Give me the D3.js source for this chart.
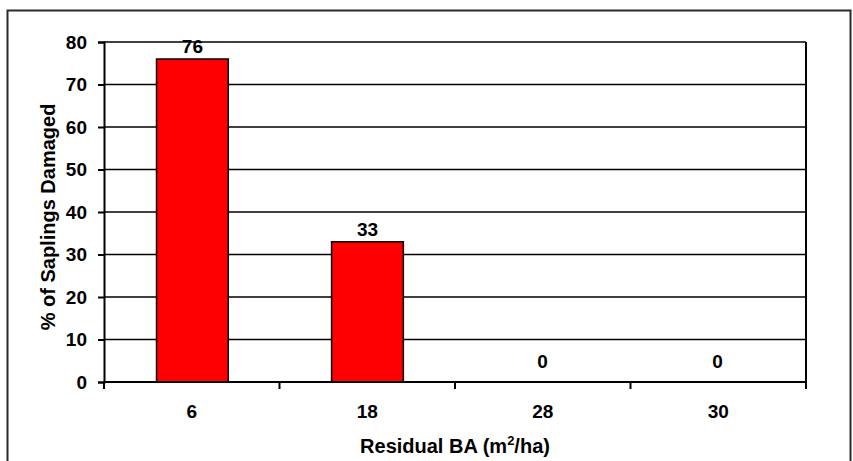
<!DOCTYPE html>
<html>
<head>
<meta charset="utf-8">
<script src="https://cdn.jsdelivr.net/npm/d3@7"></script>
<style>
  html, body { margin: 0; padding: 0; background: #fff; }
  svg { display: block; }
  text { font-family: "Liberation Sans", Arial, sans-serif; font-weight: bold; fill: #000; }
</style>
</head>
<body>
<svg id="chart" width="853" height="461"></svg>
<script>
// Sapling damage by residual basal area
const categories = ["6", "18", "28", "30"];
const damaged = [76, 33, 0, 0];
const yTicks = [0, 10, 20, 30, 40, 50, 60, 70, 80];

const svg = d3.select("#chart");
const W = 853, H = 461;
const margin = { left: 104, top: 42, right: 47, bottom: 79 };
const x0 = margin.left, x1 = W - margin.right;
const y0 = H - margin.bottom, y1 = margin.top;
const numSize = "19px", titleSize = "20px";

// outer frame
svg.append("rect")
  .attr("x", 7.5).attr("y", 10.5)
  .attr("width", 843).attr("height", 470)
  .attr("fill", "#fff").attr("stroke", "#2a2a2a").attr("stroke-width", 2);

const x = d3.scaleBand().domain(categories).range([x0, x1]).paddingInner(0.59).paddingOuter(0.3);
const xCat = d3.scaleBand().domain(categories).range([x0, x1]);
const y = d3.scaleLinear().domain([0, 80]).range([y0, y1]);

// gridlines
svg.append("g").selectAll("line").data(yTicks.filter(d => d > 0)).join("line")
  .attr("x1", x0).attr("x2", x1)
  .attr("y1", d => y(d)).attr("y2", d => y(d))
  .attr("stroke", "#000").attr("stroke-width", 1.6);

// right border of plot area
svg.append("line").attr("x1", x1).attr("x2", x1).attr("y1", y1).attr("y2", y0)
  .attr("stroke", "#000").attr("stroke-width", 2);

// bars
svg.append("g").selectAll("rect").data(categories).join("rect")
  .attr("x", (d) => x(d))
  .attr("width", x.bandwidth())
  .attr("y", (d, i) => y(damaged[i]))
  .attr("height", (d, i) => y(0) - y(damaged[i]))
  .attr("fill", "#ff0000").attr("stroke", "#000").attr("stroke-width", 1.5);

// value labels
svg.append("g").selectAll("text").data(categories).join("text")
  .attr("x", d => x(d) + x.bandwidth() / 2)
  .attr("y", (d, i) => Math.min(y(damaged[i]) - 6, y(0) - 14))
  .attr("text-anchor", "middle")
  .style("font-size", numSize)
  .text((d, i) => damaged[i]);

// y axis
const yAxis = svg.append("g").attr("transform", `translate(${x0},0)`)
  .call(d3.axisLeft(y).tickValues(yTicks).tickSize(6).tickPadding(11));
yAxis.select(".domain").attr("stroke", "#000").attr("stroke-width", 2);
yAxis.selectAll(".tick line").attr("stroke", "#000").attr("stroke-width", 2);
yAxis.selectAll(".tick text").style("font-size", numSize)
  .style("font-family", "Liberation Sans, Arial, sans-serif").style("font-weight", "bold").attr("fill", "#000");

// x axis with category boundary ticks
const xAxisG = svg.append("g").attr("transform", `translate(0,${y0})`);
xAxisG.append("line").attr("x1", x0).attr("x2", x1).attr("y1", 0).attr("y2", 0)
  .attr("stroke", "#000").attr("stroke-width", 2);
const boundaries = categories.map(c => xCat(c)).concat([x1]);
xAxisG.selectAll("line.tk").data(boundaries).join("line").attr("class", "tk")
  .attr("x1", d => d).attr("x2", d => d).attr("y1", 0).attr("y2", 7)
  .attr("stroke", "#000").attr("stroke-width", 2);
xAxisG.selectAll("text").data(categories).join("text")
  .attr("x", d => xCat(d) + xCat.bandwidth() / 2)
  .attr("y", 36)
  .attr("text-anchor", "middle")
  .style("font-size", numSize)
  .text(d => d);

// axis titles
const xt = svg.append("text")
  .attr("x", (x0 + x1) / 2).attr("y", 453)
  .attr("text-anchor", "middle")
  .style("font-size", titleSize);
xt.append("tspan").text("Residual BA (m");
xt.append("tspan").attr("dy", -8).style("font-size", "13px").text("2");
xt.append("tspan").attr("dy", 8).text("/ha)");

svg.append("text")
  .attr("transform", `translate(55,${(y0 + y1) / 2 + 5}) rotate(-90)`)
  .attr("text-anchor", "middle")
  .style("font-size", titleSize)
  .text("% of Saplings Damaged");
</script>
</body>
</html>
